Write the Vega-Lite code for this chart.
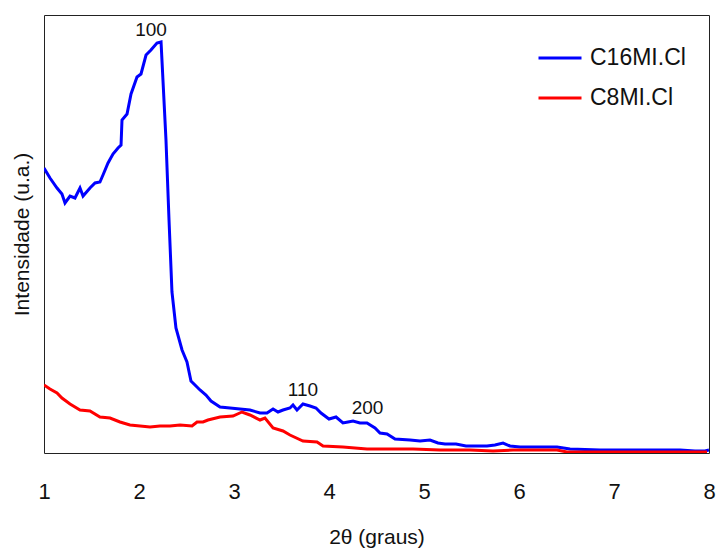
{
  "$schema": "https://vega.github.io/schema/vega-lite/v6.json",
  "width": 665,
  "height": 438,
  "autosize": "none",
  "padding": {"left": 44, "top": 15, "right": 9, "bottom": 96},
  "background": "white",
  "config": {
    "view": {"stroke": "#222222", "strokeWidth": 1},
    "font": "Liberation Sans"
  },
  "datasets": {
    "curves": [
      {"s": "C16MI.Cl", "x": 1.000, "y": 285}, {"s": "C16MI.Cl", "x": 1.063, "y": 275}, {"s": "C16MI.Cl", "x": 1.137, "y": 265}, {"s": "C16MI.Cl", "x": 1.189, "y": 259}, {"s": "C16MI.Cl", "x": 1.221, "y": 250}, {"s": "C16MI.Cl", "x": 1.274, "y": 257}, {"s": "C16MI.Cl", "x": 1.326, "y": 255}, {"s": "C16MI.Cl", "x": 1.379, "y": 265}, {"s": "C16MI.Cl", "x": 1.411, "y": 257}, {"s": "C16MI.Cl", "x": 1.484, "y": 265}, {"s": "C16MI.Cl", "x": 1.537, "y": 270}, {"s": "C16MI.Cl", "x": 1.589, "y": 271}, {"s": "C16MI.Cl", "x": 1.621, "y": 278}, {"s": "C16MI.Cl", "x": 1.674, "y": 290}, {"s": "C16MI.Cl", "x": 1.726, "y": 299}, {"s": "C16MI.Cl", "x": 1.779, "y": 305}, {"s": "C16MI.Cl", "x": 1.811, "y": 308}, {"s": "C16MI.Cl", "x": 1.821, "y": 333}, {"s": "C16MI.Cl", "x": 1.874, "y": 339}, {"s": "C16MI.Cl", "x": 1.916, "y": 359}, {"s": "C16MI.Cl", "x": 1.979, "y": 376}, {"s": "C16MI.Cl", "x": 2.021, "y": 379}, {"s": "C16MI.Cl", "x": 2.074, "y": 398}, {"s": "C16MI.Cl", "x": 2.126, "y": 403}, {"s": "C16MI.Cl", "x": 2.189, "y": 410}, {"s": "C16MI.Cl", "x": 2.232, "y": 411}, {"s": "C16MI.Cl", "x": 2.284, "y": 313}, {"s": "C16MI.Cl", "x": 2.316, "y": 233}, {"s": "C16MI.Cl", "x": 2.347, "y": 161}, {"s": "C16MI.Cl", "x": 2.389, "y": 125}, {"s": "C16MI.Cl", "x": 2.453, "y": 103}, {"s": "C16MI.Cl", "x": 2.505, "y": 91}, {"s": "C16MI.Cl", "x": 2.547, "y": 72}, {"s": "C16MI.Cl", "x": 2.600, "y": 67}, {"s": "C16MI.Cl", "x": 2.642, "y": 63}, {"s": "C16MI.Cl", "x": 2.705, "y": 58}, {"s": "C16MI.Cl", "x": 2.758, "y": 52}, {"s": "C16MI.Cl", "x": 2.853, "y": 46}, {"s": "C16MI.Cl", "x": 2.958, "y": 45}, {"s": "C16MI.Cl", "x": 3.063, "y": 44}, {"s": "C16MI.Cl", "x": 3.168, "y": 43}, {"s": "C16MI.Cl", "x": 3.274, "y": 40}, {"s": "C16MI.Cl", "x": 3.347, "y": 40}, {"s": "C16MI.Cl", "x": 3.411, "y": 44}, {"s": "C16MI.Cl", "x": 3.463, "y": 41}, {"s": "C16MI.Cl", "x": 3.516, "y": 43}, {"s": "C16MI.Cl", "x": 3.589, "y": 45}, {"s": "C16MI.Cl", "x": 3.621, "y": 48}, {"s": "C16MI.Cl", "x": 3.663, "y": 43}, {"s": "C16MI.Cl", "x": 3.726, "y": 49}, {"s": "C16MI.Cl", "x": 3.800, "y": 47}, {"s": "C16MI.Cl", "x": 3.863, "y": 45}, {"s": "C16MI.Cl", "x": 3.916, "y": 40}, {"s": "C16MI.Cl", "x": 4.000, "y": 34}, {"s": "C16MI.Cl", "x": 4.074, "y": 36}, {"s": "C16MI.Cl", "x": 4.147, "y": 30}, {"s": "C16MI.Cl", "x": 4.200, "y": 31}, {"s": "C16MI.Cl", "x": 4.253, "y": 32}, {"s": "C16MI.Cl", "x": 4.326, "y": 30}, {"s": "C16MI.Cl", "x": 4.400, "y": 30}, {"s": "C16MI.Cl", "x": 4.484, "y": 25}, {"s": "C16MI.Cl", "x": 4.537, "y": 20}, {"s": "C16MI.Cl", "x": 4.611, "y": 19}, {"s": "C16MI.Cl", "x": 4.695, "y": 14}, {"s": "C16MI.Cl", "x": 4.853, "y": 13}, {"s": "C16MI.Cl", "x": 4.958, "y": 12}, {"s": "C16MI.Cl", "x": 5.063, "y": 13}, {"s": "C16MI.Cl", "x": 5.147, "y": 10}, {"s": "C16MI.Cl", "x": 5.221, "y": 9}, {"s": "C16MI.Cl", "x": 5.337, "y": 9}, {"s": "C16MI.Cl", "x": 5.442, "y": 7}, {"s": "C16MI.Cl", "x": 5.547, "y": 7}, {"s": "C16MI.Cl", "x": 5.663, "y": 7}, {"s": "C16MI.Cl", "x": 5.747, "y": 8}, {"s": "C16MI.Cl", "x": 5.832, "y": 10}, {"s": "C16MI.Cl", "x": 5.905, "y": 7}, {"s": "C16MI.Cl", "x": 6.011, "y": 6}, {"s": "C16MI.Cl", "x": 6.221, "y": 6}, {"s": "C16MI.Cl", "x": 6.400, "y": 6}, {"s": "C16MI.Cl", "x": 6.537, "y": 4}, {"s": "C16MI.Cl", "x": 6.853, "y": 3}, {"s": "C16MI.Cl", "x": 7.063, "y": 3}, {"s": "C16MI.Cl", "x": 7.274, "y": 3}, {"s": "C16MI.Cl", "x": 7.484, "y": 3}, {"s": "C16MI.Cl", "x": 7.695, "y": 3}, {"s": "C16MI.Cl", "x": 7.853, "y": 2}, {"s": "C16MI.Cl", "x": 7.958, "y": 2}, {"s": "C16MI.Cl", "x": 8.000, "y": 3},
      {"s": "C8MI.Cl", "x": 1.000, "y": 68}, {"s": "C8MI.Cl", "x": 1.063, "y": 64}, {"s": "C8MI.Cl", "x": 1.137, "y": 60}, {"s": "C8MI.Cl", "x": 1.189, "y": 55}, {"s": "C8MI.Cl", "x": 1.274, "y": 49}, {"s": "C8MI.Cl", "x": 1.379, "y": 43}, {"s": "C8MI.Cl", "x": 1.484, "y": 42}, {"s": "C8MI.Cl", "x": 1.589, "y": 36}, {"s": "C8MI.Cl", "x": 1.695, "y": 35}, {"s": "C8MI.Cl", "x": 1.800, "y": 31}, {"s": "C8MI.Cl", "x": 1.905, "y": 28}, {"s": "C8MI.Cl", "x": 2.011, "y": 27}, {"s": "C8MI.Cl", "x": 2.116, "y": 26}, {"s": "C8MI.Cl", "x": 2.221, "y": 27}, {"s": "C8MI.Cl", "x": 2.326, "y": 27}, {"s": "C8MI.Cl", "x": 2.432, "y": 28}, {"s": "C8MI.Cl", "x": 2.558, "y": 27}, {"s": "C8MI.Cl", "x": 2.611, "y": 31}, {"s": "C8MI.Cl", "x": 2.674, "y": 31}, {"s": "C8MI.Cl", "x": 2.726, "y": 33}, {"s": "C8MI.Cl", "x": 2.853, "y": 36}, {"s": "C8MI.Cl", "x": 2.989, "y": 37}, {"s": "C8MI.Cl", "x": 3.084, "y": 41}, {"s": "C8MI.Cl", "x": 3.168, "y": 38}, {"s": "C8MI.Cl", "x": 3.274, "y": 33}, {"s": "C8MI.Cl", "x": 3.326, "y": 35}, {"s": "C8MI.Cl", "x": 3.411, "y": 25}, {"s": "C8MI.Cl", "x": 3.516, "y": 22}, {"s": "C8MI.Cl", "x": 3.589, "y": 18}, {"s": "C8MI.Cl", "x": 3.726, "y": 12}, {"s": "C8MI.Cl", "x": 3.874, "y": 11}, {"s": "C8MI.Cl", "x": 3.937, "y": 7}, {"s": "C8MI.Cl", "x": 4.147, "y": 6}, {"s": "C8MI.Cl", "x": 4.400, "y": 4}, {"s": "C8MI.Cl", "x": 4.642, "y": 4}, {"s": "C8MI.Cl", "x": 4.884, "y": 4}, {"s": "C8MI.Cl", "x": 5.168, "y": 3}, {"s": "C8MI.Cl", "x": 5.484, "y": 3}, {"s": "C8MI.Cl", "x": 5.726, "y": 2}, {"s": "C8MI.Cl", "x": 5.937, "y": 3}, {"s": "C8MI.Cl", "x": 6.221, "y": 3}, {"s": "C8MI.Cl", "x": 6.400, "y": 3}, {"s": "C8MI.Cl", "x": 6.505, "y": 1}, {"s": "C8MI.Cl", "x": 6.853, "y": 1}, {"s": "C8MI.Cl", "x": 7.274, "y": 1}, {"s": "C8MI.Cl", "x": 7.695, "y": 1}, {"s": "C8MI.Cl", "x": 7.979, "y": 1}
    ],
    "peaks": [
      {"label": "100", "x": 2.126, "y": 423.5},
      {"label": "110", "x": 3.726, "y": 63},
      {"label": "200", "x": 4.405, "y": 45.5}
    ]
  },
  "layer": [
    {
      "data": {"name": "curves"},
      "mark": {"type": "line", "strokeWidth": 3, "clip": true},
      "encoding": {
        "x": {
          "field": "x", "type": "quantitative",
          "scale": {"domain": [1, 8], "nice": false, "zero": false},
          "axis": {
            "title": "2θ (graus)", "values": [1, 2, 3, 4, 5, 6, 7, 8], "format": "d",
            "grid": false, "ticks": false, "domain": false,
            "labelFontSize": 22, "labelColor": "#111111", "labelPadding": 28,
            "labelFlush": false,
            "titleFontSize": 21, "titleFontWeight": "normal", "titleColor": "#111111", "titlePadding": 24
          }
        },
        "y": {
          "field": "y", "type": "quantitative",
          "scale": {"domain": [0, 438], "nice": false},
          "axis": {
            "title": "Intensidade (u.a.)", "labels": false, "ticks": false, "domain": false, "grid": false,
            "titleFontSize": 21, "titleFontWeight": "normal", "titleColor": "#111111", "titlePadding": 12
          }
        },
        "color": {
          "field": "s", "type": "nominal",
          "scale": {"domain": ["C16MI.Cl", "C8MI.Cl"], "range": ["#0000ff", "#ff0000"]},
          "legend": {
            "title": null, "orient": "none", "legendX": 493, "legendY": 20,
            "symbolType": "stroke", "symbolSize": 1849, "symbolStrokeWidth": 3,
            "labelFontSize": 23, "labelColor": "#111111", "labelOffset": 7,
            "rowPadding": 5, "padding": 0
          }
        },
        "order": {"field": "x", "type": "quantitative"}
      }
    },
    {
      "data": {"name": "peaks"},
      "mark": {"type": "text", "fontSize": 19, "baseline": "middle", "align": "center", "color": "#111111"},
      "encoding": {
        "x": {"field": "x", "type": "quantitative"},
        "y": {"field": "y", "type": "quantitative"},
        "text": {"field": "label"}
      }
    }
  ]
}
